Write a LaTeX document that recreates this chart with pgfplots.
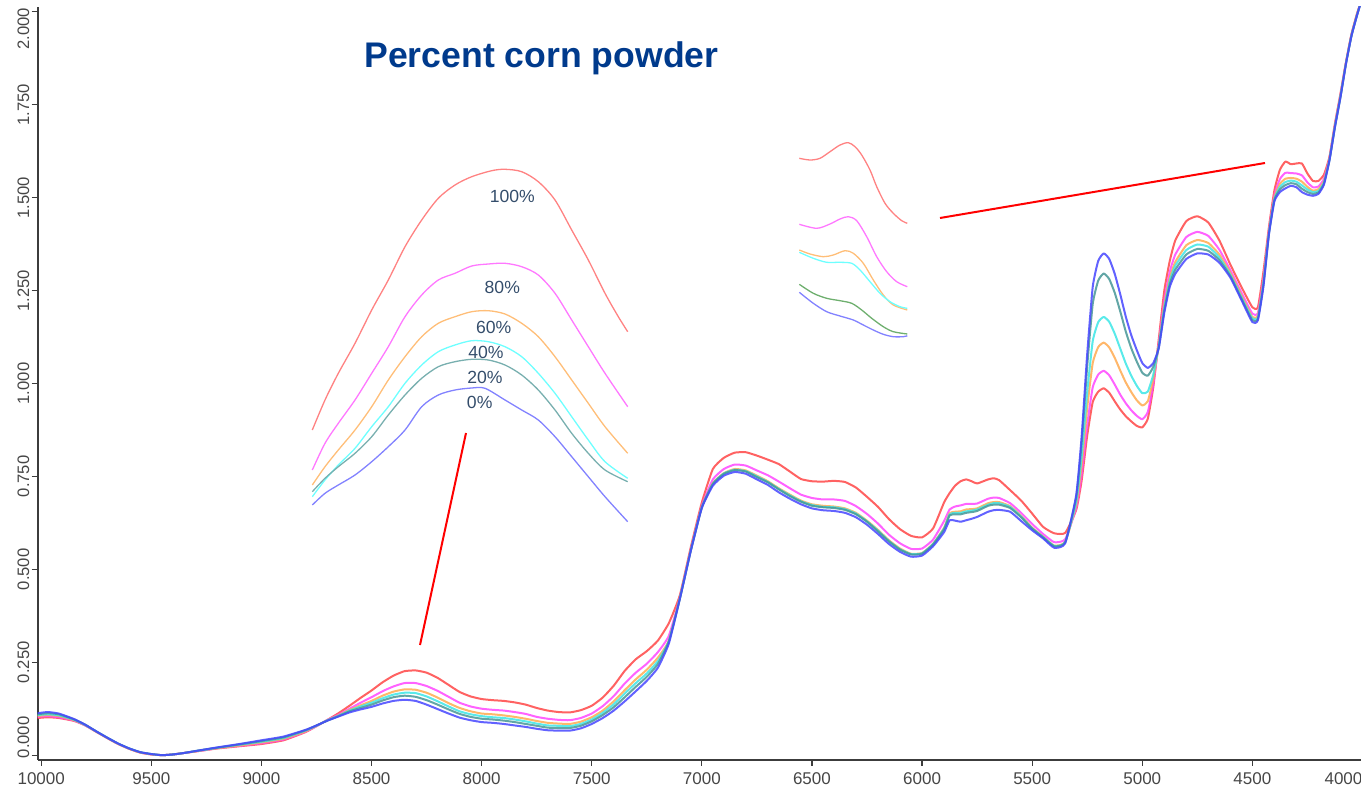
\documentclass[border=0pt]{standalone}
\usepackage{fontspec}
\setmainfont{Liberation Sans}
\usepackage{pgfplots}
\usepackage{pgfplotstable}
\pgfplotsset{compat=1.18}

\definecolor{mRed}{RGB}{255,70,70}
\definecolor{mMag}{RGB}{255,70,255}
\definecolor{mOra}{RGB}{255,170,80}
\definecolor{mCya}{RGB}{60,230,230}
\definecolor{mTea}{RGB}{70,150,150}
\definecolor{mBlu}{RGB}{70,70,255}
\definecolor{iRed}{RGB}{255,130,130}
\definecolor{iMag}{RGB}{255,120,255}
\definecolor{iOra}{RGB}{255,190,120}
\definecolor{iCya}{RGB}{110,255,255}
\definecolor{iTea}{RGB}{120,175,175}
\definecolor{iBlu}{RGB}{130,130,255}
\definecolor{iGrn}{RGB}{110,175,110}
\definecolor{titleblue}{RGB}{0,58,140}
\definecolor{pctlabel}{RGB}{52,77,107}
\definecolor{tickgray}{RGB}{70,70,70}
\definecolor{axisgray}{RGB}{60,60,60}

% x = wavenumber; B=0%, T=20%, C=40%, O=60%, M=80%, R=100%
\pgfplotstableread{
x B T C O M R
10016 0.113 0.110 0.108 0.105 0.103 0.100
9970 0.116 0.113 0.110 0.108 0.105 0.102
9920 0.112 0.110 0.107 0.105 0.102 0.100
9850 0.097 0.096 0.095 0.094 0.093 0.092
9800 0.082 0.082 0.081 0.081 0.080 0.080
9750 0.064 0.064 0.064 0.063 0.063 0.063
9700 0.047 0.047 0.047 0.046 0.046 0.046
9650 0.031 0.031 0.031 0.030 0.030 0.030
9600 0.018 0.018 0.018 0.017 0.017 0.017
9550 0.008 0.008 0.008 0.007 0.007 0.007
9500 0.003 0.003 0.003 0.002 0.002 0.002
9450 0.000 0.000 0.000 0.000 0.000 0.000
9400 0.002 0.002 0.002 0.002 0.002 0.002
9350 0.006 0.006 0.006 0.006 0.006 0.006
9300 0.011 0.011 0.011 0.010 0.010 0.010
9250 0.016 0.016 0.015 0.015 0.014 0.014
9200 0.021 0.020 0.020 0.019 0.019 0.018
9100 0.030 0.029 0.028 0.026 0.025 0.024
9000 0.040 0.038 0.036 0.034 0.032 0.030
8900 0.050 0.048 0.046 0.044 0.042 0.040
8800 0.068 0.067 0.066 0.064 0.063 0.062
8750 0.080 0.080 0.079 0.079 0.078 0.078
8700 0.093 0.093 0.094 0.094 0.095 0.095
8650 0.104 0.105 0.106 0.107 0.109 0.113
8600 0.115 0.118 0.120 0.122 0.125 0.133
8550 0.123 0.127 0.131 0.134 0.141 0.154
8500 0.130 0.136 0.141 0.146 0.156 0.174
8450 0.139 0.147 0.153 0.160 0.172 0.196
8400 0.146 0.156 0.163 0.171 0.185 0.214
8350 0.149 0.160 0.168 0.177 0.194 0.226
8300 0.146 0.157 0.167 0.176 0.194 0.228
8250 0.136 0.148 0.158 0.168 0.186 0.222
8200 0.124 0.136 0.145 0.155 0.173 0.208
8150 0.112 0.123 0.131 0.140 0.157 0.189
8100 0.101 0.111 0.118 0.127 0.141 0.170
8050 0.094 0.103 0.110 0.118 0.131 0.158
8000 0.089 0.098 0.105 0.112 0.125 0.151
7950 0.087 0.096 0.102 0.110 0.122 0.148
7900 0.084 0.093 0.100 0.107 0.120 0.146
7850 0.080 0.089 0.096 0.103 0.116 0.142
7800 0.076 0.084 0.091 0.098 0.111 0.136
7750 0.071 0.079 0.085 0.092 0.103 0.127
7700 0.067 0.074 0.080 0.087 0.098 0.120
7650 0.066 0.073 0.079 0.085 0.095 0.116
7600 0.066 0.073 0.078 0.084 0.094 0.115
7550 0.072 0.079 0.084 0.090 0.100 0.121
7500 0.084 0.091 0.096 0.102 0.112 0.133
7450 0.100 0.108 0.114 0.120 0.132 0.155
7400 0.120 0.129 0.137 0.145 0.159 0.187
7350 0.145 0.156 0.166 0.175 0.193 0.227
7300 0.172 0.184 0.194 0.204 0.222 0.258
7250 0.200 0.211 0.220 0.230 0.246 0.280
7200 0.235 0.245 0.253 0.262 0.277 0.308
7150 0.300 0.306 0.307 0.308 0.321 0.355
7100 0.420 0.421 0.421 0.422 0.424 0.430
7050 0.550 0.551 0.551 0.552 0.554 0.560
7000 0.665 0.667 0.667 0.667 0.671 0.680
6950 0.725 0.730 0.730 0.732 0.742 0.770
6900 0.752 0.757 0.758 0.759 0.770 0.800
6850 0.762 0.767 0.768 0.770 0.782 0.814
6800 0.757 0.763 0.764 0.766 0.779 0.815
6750 0.742 0.748 0.750 0.752 0.766 0.806
6700 0.727 0.734 0.735 0.737 0.753 0.795
6650 0.707 0.715 0.716 0.718 0.736 0.783
6600 0.690 0.697 0.699 0.701 0.718 0.763
6550 0.675 0.682 0.683 0.685 0.701 0.743
6500 0.664 0.671 0.673 0.675 0.692 0.737
6450 0.659 0.667 0.668 0.671 0.688 0.736
6400 0.657 0.665 0.667 0.669 0.688 0.738
6350 0.652 0.660 0.662 0.664 0.684 0.735
6300 0.640 0.648 0.650 0.652 0.670 0.720
6250 0.620 0.628 0.629 0.631 0.649 0.695
6200 0.595 0.602 0.604 0.606 0.623 0.668
6150 0.568 0.575 0.576 0.578 0.593 0.635
6100 0.547 0.553 0.554 0.556 0.570 0.608
6050 0.534 0.540 0.541 0.542 0.555 0.590
6000 0.537 0.542 0.543 0.544 0.556 0.586
5950 0.562 0.567 0.568 0.569 0.580 0.610
5900 0.600 0.608 0.610 0.612 0.630 0.680
5875 0.632 0.645 0.648 0.651 0.661 0.705
5850 0.631 0.648 0.652 0.655 0.669 0.725
5825 0.628 0.648 0.652 0.656 0.672 0.737
5800 0.632 0.652 0.656 0.661 0.676 0.742
5775 0.636 0.654 0.658 0.662 0.676 0.737
5750 0.641 0.657 0.661 0.664 0.677 0.731
5700 0.655 0.671 0.674 0.678 0.690 0.742
5675 0.659 0.674 0.678 0.681 0.693 0.745
5650 0.660 0.674 0.678 0.681 0.692 0.740
5600 0.655 0.665 0.668 0.670 0.678 0.713
5550 0.630 0.640 0.642 0.644 0.652 0.685
5500 0.605 0.610 0.610 0.612 0.622 0.650
5450 0.583 0.586 0.587 0.588 0.595 0.614
5400 0.558 0.562 0.563 0.564 0.573 0.597
5350 0.570 0.573 0.573 0.574 0.581 0.598
5300 0.700 0.694 0.681 0.674 0.665 0.660
5275 0.860 0.842 0.804 0.781 0.756 0.740
5250 1.080 1.047 0.977 0.935 0.889 0.860
5225 1.260 1.214 1.114 1.055 0.990 0.950
5200 1.330 1.277 1.165 1.098 1.024 0.978
5175 1.350 1.296 1.179 1.110 1.034 0.987
5150 1.335 1.281 1.166 1.097 1.022 0.975
5125 1.295 1.244 1.134 1.069 0.997 0.952
5100 1.240 1.194 1.094 1.035 0.970 0.930
5075 1.180 1.140 1.054 1.003 0.947 0.912
5050 1.130 1.095 1.021 0.977 0.928 0.898
5025 1.090 1.059 0.994 0.955 0.913 0.886
5000 1.055 1.029 0.974 0.941 0.904 0.882
4975 1.042 1.021 0.978 0.952 0.923 0.905
4950 1.055 1.045 1.024 1.012 0.998 0.990
4925 1.095 1.098 1.101 1.104 1.110 1.120
4900 1.190 1.197 1.204 1.212 1.225 1.250
4875 1.260 1.268 1.277 1.285 1.301 1.330
4850 1.295 1.306 1.317 1.327 1.347 1.385
4800 1.335 1.347 1.359 1.372 1.394 1.437
4750 1.350 1.362 1.374 1.386 1.408 1.450
4700 1.347 1.357 1.368 1.378 1.397 1.433
4650 1.325 1.332 1.339 1.347 1.360 1.385
4600 1.285 1.289 1.293 1.298 1.305 1.320
4550 1.225 1.229 1.233 1.238 1.245 1.260
4500 1.165 1.170 1.175 1.179 1.188 1.205
4475 1.170 1.174 1.178 1.183 1.190 1.205
4450 1.260 1.265 1.270 1.274 1.283 1.300
4425 1.400 1.402 1.405 1.407 1.412 1.420
4400 1.490 1.494 1.497 1.501 1.507 1.520
4375 1.515 1.522 1.529 1.537 1.550 1.575
4350 1.525 1.534 1.542 1.551 1.567 1.597
4325 1.532 1.539 1.546 1.553 1.566 1.590
4300 1.528 1.536 1.543 1.551 1.565 1.592
4275 1.515 1.524 1.533 1.543 1.560 1.592
4250 1.508 1.515 1.522 1.529 1.541 1.565
4225 1.505 1.510 1.515 1.519 1.528 1.545
4200 1.510 1.514 1.518 1.523 1.530 1.545
4175 1.535 1.538 1.541 1.545 1.551 1.562
4150 1.600 1.601 1.602 1.604 1.606 1.610
4125 1.690 1.691 1.692 1.694 1.696 1.700
4100 1.770 1.771 1.772 1.774 1.776 1.780
4075 1.860 1.861 1.861 1.862 1.863 1.865
4050 1.935 1.936 1.936 1.937 1.938 1.940
4025 1.990 1.991 1.991 1.992 1.993 1.995
4000 2.040 2.040 2.040 2.040 2.040 2.040
}\spectra

\newcommand\ylab[1]{%
  \ifdim#1pt<0.1pt \makebox[0pt][l]{\hspace{-1.5pt}0.000}%
  \else\ifdim#1pt>1.9pt \makebox[0pt][r]{2.000\hspace{-2pt}}%
  \else\pgfmathprintnumber[fixed,fixed zerofill,precision=3]{#1}\fi\fi}

\begin{document}
\begin{tikzpicture}
% ---------------- main spectra axis ----------------
\begin{axis}[
  at={(18.85pt,16.5pt)}, anchor=south west,
  scale only axis, width=662.4pt, height=376.5pt,
  x dir=reverse,
  xmin=4000, xmax=10016, ymin=-0.013, ymax=2.013,
  axis x line=bottom, axis y line=left,
  axis line style={-, line width=1pt, color=axisgray},
  tick align=outside, major tick length=3pt,
  tick style={line width=0.6pt, color=axisgray},
  scaled x ticks=false, scaled y ticks=false,
  xtick={4500,5000,...,10000},
  extra x ticks={4000},
  extra x tick style={xticklabel style={anchor=north, xshift=-9.5pt}},
  ytick={0,0.25,...,2},
  yticklabel={\ylab{\tick}},
  /pgf/number format/assume math mode=true,
  xticklabel style={font=\fontsize{8.5}{10}\selectfont, text=tickgray,
    /pgf/number format/1000 sep={}},
  yticklabel style={font=\fontsize{8.3}{10}\selectfont, text=tickgray,
    rotate=90, anchor=south, inner sep=1pt},
  every axis plot/.append style={line width=1pt, line join=round, opacity=0.85, smooth, tension=0.3},
]
\addplot[mRed] table[x=x,y=R] {\spectra};
\addplot[mMag] table[x=x,y=M] {\spectra};
\addplot[mOra] table[x=x,y=O] {\spectra};
\addplot[mCya] table[x=x,y=C] {\spectra};
\addplot[mTea] table[x=x,y=T] {\spectra};
\addplot[mBlu] table[x=x,y=B] {\spectra};
\end{axis}

% ---------------- overlay in picture pixels: insets, pointers, title ----------------
\begin{axis}[
  at={(0pt,0pt)}, anchor=south west,
  scale only axis, width=680.5pt, height=396.5pt,
  xmin=0, xmax=1361, ymin=0, ymax=793, y dir=reverse,
  hide axis, clip=false,
  every axis plot/.append style={line width=0.65pt, smooth, tension=0.5, line join=round},
]
% left inset (zoom of the 8300 band)
\addplot[iRed] coordinates {(312.3,430) (325,400) (338.3,373.3) (355,343.3) (371.7,310) (388.3,280) (405,246.7) (421.7,220) (438.3,198.3) (455,185) (471.7,176.7) (491.7,170.7) (505,169.3) (521.7,171.7) (538.3,181.7) (555,200) (571.7,230) (588.3,260) (605,293.3) (618.3,316.7) (627.7,331.7)};
\addplot[iMag] coordinates {(312.3,470) (325,443.3) (338.3,423.3) (355,400) (371.7,373.3) (388.3,346.7) (405,316.7) (421.7,295) (438.3,280) (455,273.3) (471.7,266) (488.3,264) (505,263.3) (521.7,266.7) (538.3,275) (555,293.3) (571.7,320) (588.3,346.7) (605,373.3) (627.7,406.7)};
\addplot[iOra] coordinates {(312.3,485) (325,466.7) (338.3,450) (355,430) (371.7,406.7) (388.3,380) (405,356.7) (421.7,336.7) (438.3,323.3) (455,316.7) (471.7,311.7) (488.3,310.7) (505,314) (521.7,323.3) (538.3,336.7) (555,356.7) (571.7,380) (588.3,403.3) (605,426.7) (627.7,453.3)};
\addplot[iCya] coordinates {(312.3,496.7) (325,480) (338.3,465) (355,448.3) (371.7,426.7) (388.3,406.7) (405,383.3) (421.7,365) (438.3,351.7) (455,345) (471.7,340.7) (488.3,341.7) (505,346.7) (521.7,356.7) (538.3,373.3) (555,393.3) (571.7,416.7) (588.3,440) (605,461.7) (627.7,478.3)};
\addplot[iTea] coordinates {(312.3,491.7) (325,478.3) (338.3,466.7) (355,453.3) (371.7,436.7) (388.3,415) (405,395) (421.7,378.3) (438.3,366.7) (455,361.7) (471.7,359.3) (488.3,360) (505,365) (521.7,375) (538.3,390) (555,410) (571.7,433.3) (588.3,453.3) (605,470) (627.7,481.7)};
\addplot[iBlu] coordinates {(312.3,505) (325,493.3) (338.3,485) (355,475) (371.7,461.7) (388.3,446.7) (405,430) (421.7,406.7) (438.3,395) (455,390) (471.7,388) (485,388.3) (505,400) (521.7,410) (538.3,420) (555,436.7) (571.7,456.7) (588.3,476.7) (605,496.7) (627.7,521.7)};
% right inset (zoom of the 4300 band)
\addplot[iRed] coordinates {(799.3,158.3) (810,160) (820,158.3) (830,151.7) (840,145) (848.3,142.7) (855,146.7) (861.7,155) (870,170) (876.7,186.7) (885,203.3) (893.3,213.3) (901.7,220.7) (907.3,223.3)};
\addplot[iMag] coordinates {(799.3,224.3) (816.7,228.3) (830,224) (840,219) (848.3,216.7) (856.7,220.7) (866.7,236.7) (876.7,256.7) (886.7,271.7) (896.7,281.7) (907.3,286.7)};
\addplot[iOra] coordinates {(799.3,250) (810,254) (823.3,256.7) (833.3,255) (845,250.7) (853.3,253.3) (863.3,263.3) (873.3,280) (883.3,295) (893.3,305) (907.3,310)};
\addplot[iCya] coordinates {(799.3,252.3) (813.3,258.3) (826.7,262.3) (840,262.3) (851.7,263.3) (860,270) (870,281.7) (880,293.3) (890,301.7) (900,306.7) (907.3,308.3)};
\addplot[iGrn] coordinates {(799.3,284.3) (813.3,293.3) (826.7,298.3) (840,300.7) (851.7,303.3) (861.7,310) (871.7,318.3) (883.3,326.7) (893.3,331.7) (907.3,334)};
\addplot[iBlu] coordinates {(799.3,292.3) (813.3,303.3) (826.7,311.7) (840,316) (853.3,320) (863.3,325) (873.3,330) (883.3,334.3) (893.3,336.7) (903.3,336.7) (907.3,335.7)};
% pointer lines
\addplot[red, line width=1pt, sharp plot] coordinates {(466,433) (420,645)};
\addplot[red, line width=1pt, sharp plot] coordinates {(940,218) (1265,163)};
% labels
\node[font=\fontsize{8.8}{10}\selectfont, text=pctlabel] at (axis cs:512.3,196) {100\%};
\node[font=\fontsize{8.8}{10}\selectfont, text=pctlabel] at (axis cs:502.3,287.3) {80\%};
\node[font=\fontsize{8.8}{10}\selectfont, text=pctlabel] at (axis cs:493.7,327.3) {60\%};
\node[font=\fontsize{8.8}{10}\selectfont, text=pctlabel] at (axis cs:486,352.7) {40\%};
\node[font=\fontsize{8.8}{10}\selectfont, text=pctlabel] at (axis cs:485,377.3) {20\%};
\node[font=\fontsize{8.8}{10}\selectfont, text=pctlabel] at (axis cs:479.7,402.7) {0\%};
\node[font=\bfseries\fontsize{17.8}{20}\selectfont, text=titleblue, anchor=base] at (axis cs:541.5,67.3) {Percent corn powder};
\end{axis}
\pgfresetboundingbox
\path[use as bounding box] (0pt,0pt) rectangle (680.5pt,396.5pt);
\end{tikzpicture}
\end{document}
